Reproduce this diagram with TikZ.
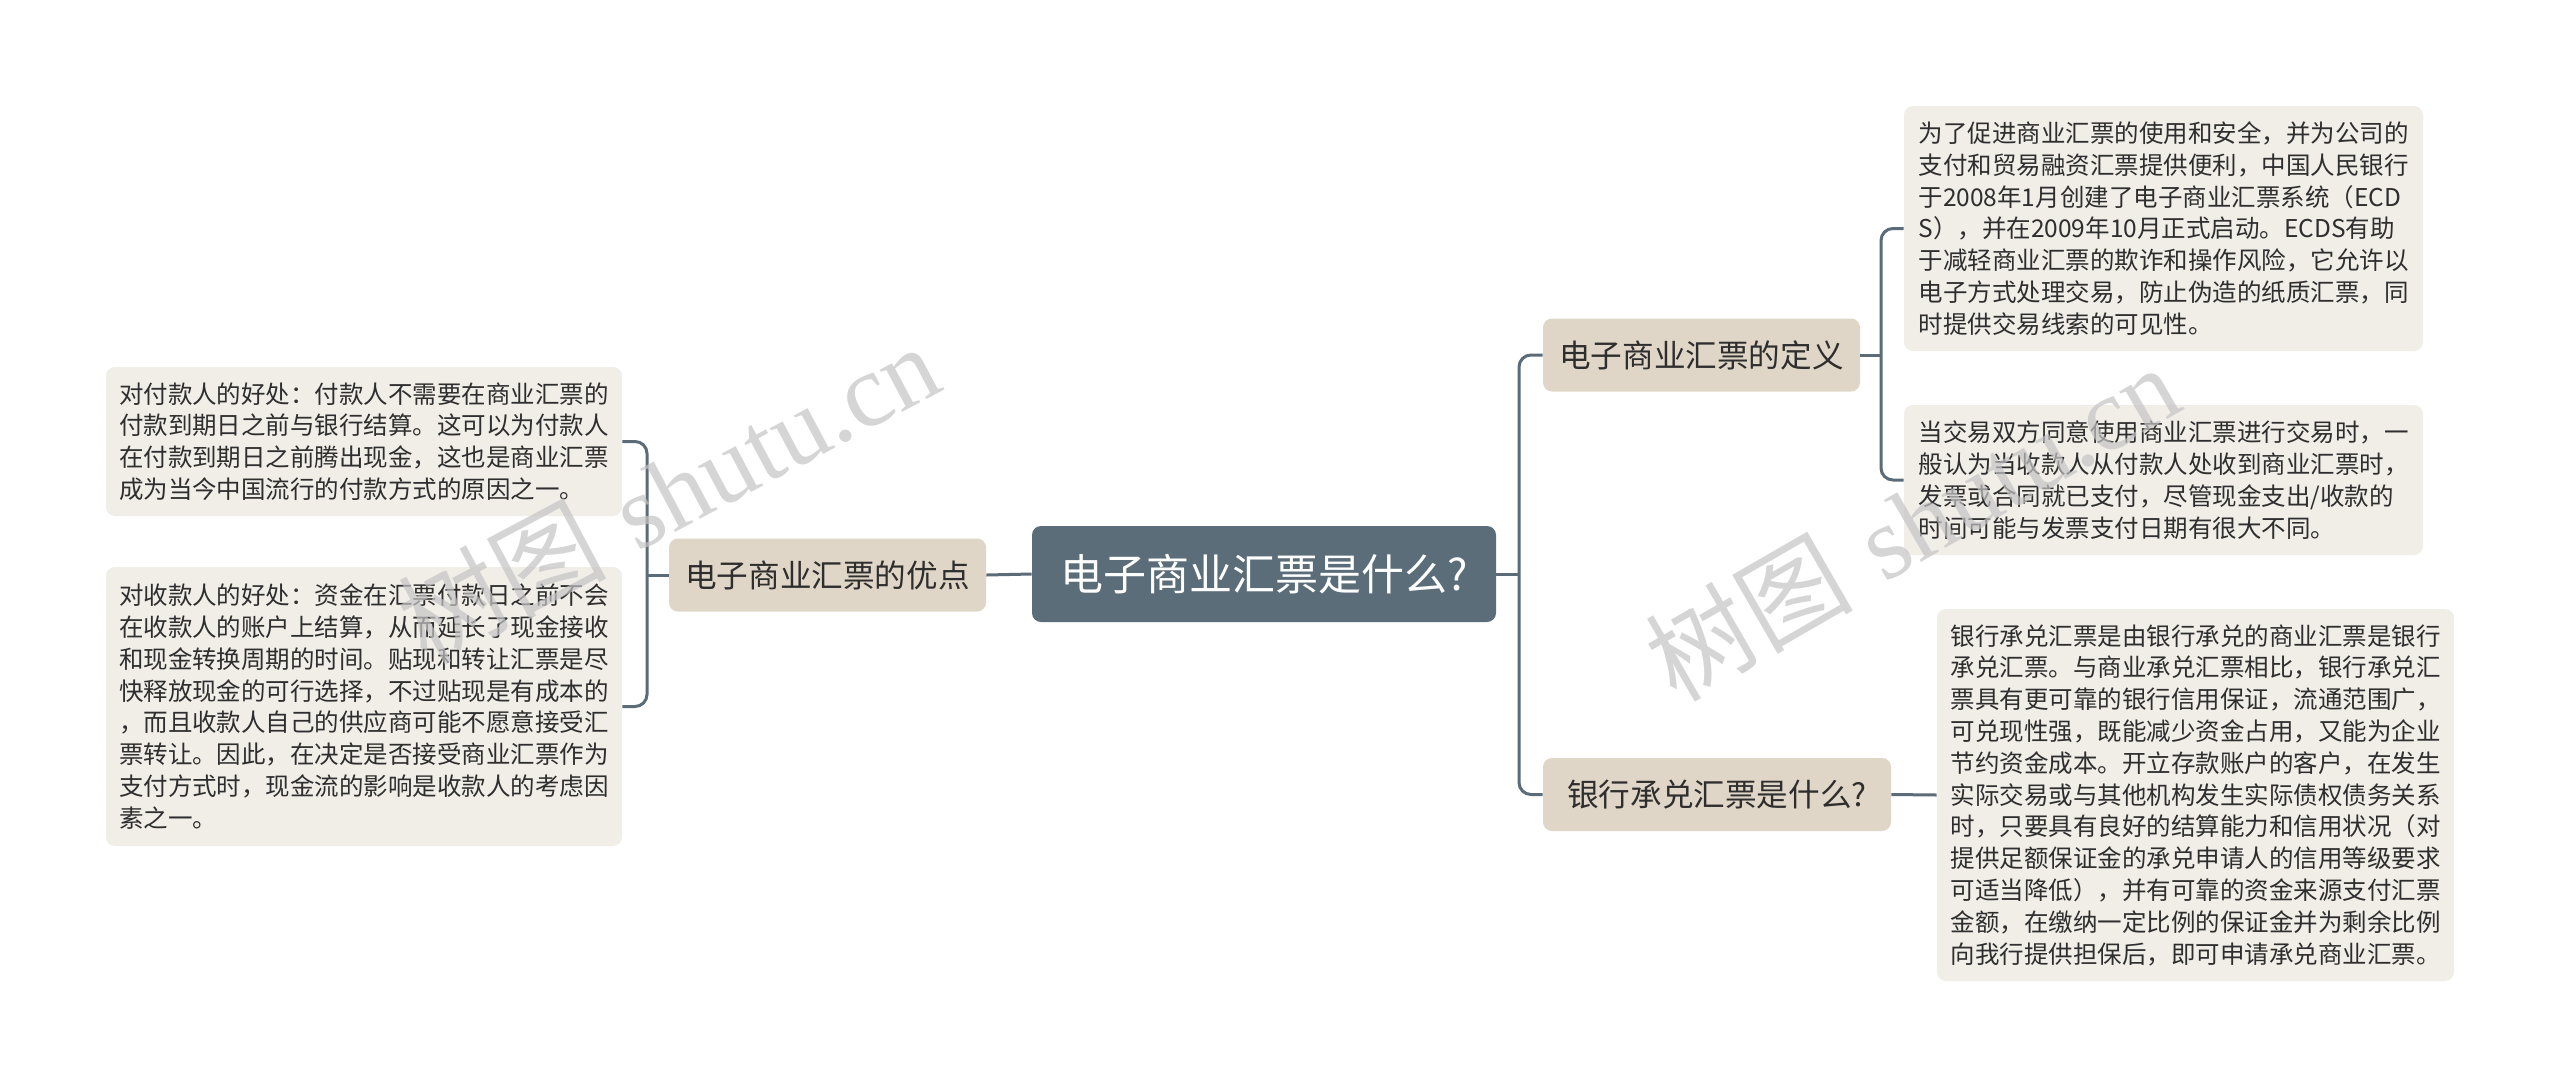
\documentclass[tikz,border=0pt]{standalone}
\usepackage{fontspec}
\newfontfamily\cjk{Noto Sans CJK SC}
\newfontfamily\wmlatin{Liberation Serif}
\definecolor{rootfill}{HTML}{5C6D7A}
\definecolor{midfill}{HTML}{E0D6C7}
\definecolor{leaffill}{HTML}{F1EEE8}
\definecolor{linkcol}{HTML}{5C6B78}
\definecolor{txt}{HTML}{2E2E2E}
\definecolor{wmcol}{HTML}{C4C4C4}
\begin{document}
\begin{tikzpicture}[x=0.5pt,y=-0.5pt,
  rootbox/.style={draw=none,fill=rootfill,rounded corners=4.5pt,text=white,
    font=\cjk\fontsize{21.5pt}{25pt}\selectfont,minimum width=232pt,minimum height=48pt,inner sep=0pt},
  midbox/.style={draw=none,fill=midfill,rounded corners=4.5pt,text=txt,
    font=\cjk\fontsize{15.8pt}{19pt}\selectfont,minimum height=36.5pt,inner sep=0pt},
  leafbox/.style={draw=none,fill=leaffill,rounded corners=4.5pt,text=txt,
    font=\cjk\fontsize{12.25pt}{15.9pt}\selectfont,align=left,text width=245pt,
    inner xsep=6.5pt,inner ysep=0pt,minimum width=258pt},
  link/.style={draw=linkcol,line width=1.5pt,rounded corners=6pt},
  wm/.style={text=wmcol,opacity=0.7,font=\fontsize{52pt}{60pt}\selectfont}
]
\useasboundingbox (0,0) rectangle (2560,1088);
\fill[white] (0,0) rectangle (2560,1088);

% nodes
\node[rootbox] (root) at (1264,574) {电子商业汇票是什么?};
\node[midbox,minimum width=158.5pt] (adv) at (827.5,575) {电子商业汇票的优点};
\node[midbox,minimum width=158.5pt] (def) at (1701.5,355) {电子商业汇票的定义};
\node[midbox,minimum width=174pt] (bank) at (1717,794.5) {银行承兑汇票是什么?};

\node[leafbox,minimum height=74.5pt] (advA) at (364,441.5) {对付款人的好处：付款人不需要在商业汇票的\\付款到期日之前与银行结算。这可以为付款人\\在付款到期日之前腾出现金，这也是商业汇票\\成为当今中国流行的付款方式的原因之一。};
\node[leafbox,minimum height=139.5pt] (advB) at (364,706.5) {对收款人的好处：资金在汇票付款日之前不会\\在收款人的账户上结算，从而延长了现金接收\\和现金转换周期的时间。贴现和转让汇票是尽\\快释放现金的可行选择，不过贴现是有成本的\\，而且收款人自己的供应商可能不愿意接受汇\\票转让。因此，在决定是否接受商业汇票作为\\支付方式时，现金流的影响是收款人的考虑因\\素之一。};

\node[leafbox,minimum width=259.5pt,minimum height=122.5pt] (defA) at (2163.5,228.5) {为了促进商业汇票的使用和安全，并为公司的\\支付和贸易融资汇票提供便利，中国人民银行\\于2008年1月创建了电子商业汇票系统（ECD\\S），并在2009年10月正式启动。ECDS有助\\于减轻商业汇票的欺诈和操作风险，它允许以\\电子方式处理交易，防止伪造的纸质汇票，同\\时提供交易线索的可见性。};
\node[leafbox,minimum width=259.5pt,minimum height=75pt] (defB) at (2163.5,480) {当交易双方同意使用商业汇票进行交易时，一\\般认为当收款人从付款人处收到商业汇票时，\\发票或合同就已支付，尽管现金支出/收款的\\时间可能与发票支付日期有很大不同。};

\node[leafbox,minimum width=258.5pt,minimum height=186pt] (bankA) at (2195.5,795) {银行承兑汇票是由银行承兑的商业汇票是银行\\承兑汇票。与商业承兑汇票相比，银行承兑汇\\票具有更可靠的银行信用保证，流通范围广，\\可兑现性强，既能减少资金占用，又能为企业\\节约资金成本。开立存款账户的客户，在发生\\实际交易或与其他机构发生实际债权债务关系\\时，只要具有良好的结算能力和信用状况（对\\提供足额保证金的承兑申请人的信用等级要求\\可适当降低），并有可靠的资金来源支付汇票\\金额，在缴纳一定比例的保证金并为剩余比例\\向我行提供担保后，即可申请承兑商业汇票。};

% junctions
\coordinate (jr) at (1519,574);
\coordinate (jl) at (647,575);
\coordinate (jd) at (1881,355);

% connectors
\draw[link] (root.east) -- (jr);
\draw[link] (jr) |- (def.west);
\draw[link] (jr) |- (bank.west);
\draw[link] (root.west) -- (adv.east);
\draw[link] (adv.west) -- (jl);
\draw[link] (jl) |- (advA.east);
\draw[link] (jl) |- (advB.east);
\draw[link] (def.east) -- (jd);
\draw[link] (jd) |- (defA.west);
\draw[link] (jd) |- (defB.west);
\draw[link] (bank.east) -- (bankA.west);

% watermarks
\node[wm,rotate=28] (wm1) at (668,492) {{\cjk 树图} {\wmlatin shutu.cn}};
\node[wm,rotate=30] (wm2) at (1912,522) {{\cjk 树图} {\wmlatin shutu.cn}};
\end{tikzpicture}
\end{document}
